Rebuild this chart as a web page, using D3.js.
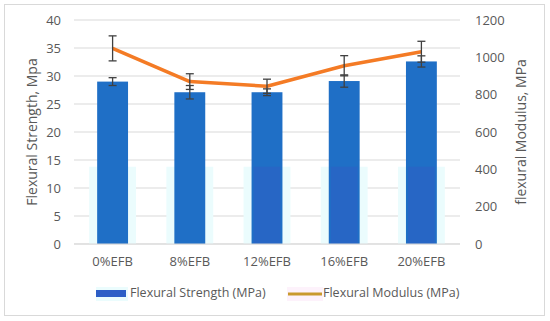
<!DOCTYPE html>
<html>
<head>
<meta charset="utf-8">
<script src="https://cdn.jsdelivr.net/npm/d3@7"></script>
<style>
  body { margin: 0; background: #fff; }
  text { font-family: "Open Sans", "Noto Sans", sans-serif; fill: #595959; }
</style>
</head>
<body>
<div id="chart"></div>
<script>
// data
const categories = ["0%EFB", "8%EFB", "12%EFB", "16%EFB", "20%EFB"];
const strength = [29.0, 27.1, 27.1, 29.1, 32.6];
const strengthErr = [0.7, 1.2, 0.6, 1.1, 1.0];
const modulus = [1048, 870, 845, 955, 1030];
const modulusErr = [67, 42, 38, 54, 56];
const leftTicks = [0, 5, 10, 15, 20, 25, 30, 35, 40];
const rightTicks = [0, 200, 400, 600, 800, 1000, 1200];

const width = 550, height = 321;
const margin = { top: 20, right: 90, bottom: 77, left: 74 };

const svg = d3.select("#chart")
    .append("svg")
    .attr("width", width)
    .attr("height", height);

// outer border
svg.append("rect")
    .attr("x", 4.5).attr("y", 4.5)
    .attr("width", 540).attr("height", 311)
    .attr("fill", "#fff")
    .attr("stroke", "#d9d9d9");

const x = d3.scaleBand()
    .domain(categories)
    .range([margin.left, width - margin.right])
    .paddingInner(0.6)
    .paddingOuter(0.3);

const yL = d3.scaleLinear().domain([0, 40]).range([height - margin.bottom, margin.top]);
const yR = d3.scaleLinear().domain([0, 1200]).range([height - margin.bottom, margin.top]);

// gridlines
svg.append("g")
    .selectAll("line")
    .data(leftTicks)
    .join("line")
    .attr("x1", margin.left).attr("x2", width - margin.right)
    .attr("y1", d => yL(d)).attr("y2", d => yL(d))
    .attr("stroke", "#d9d9d9");

// faint halo behind lower part of bars (scan artefact in source)
svg.append("g")
    .selectAll("rect")
    .data(categories)
    .join("rect")
    .attr("x", d => x(d) - 8)
    .attr("width", x.bandwidth() + 16)
    .attr("y", yL(13.8))
    .attr("height", yL(0) - yL(13.8))
    .attr("fill", "#ebfcfd");

// bars
svg.append("g")
    .selectAll("rect")
    .data(strength)
    .join("rect")
    .attr("x", (d, i) => x(categories[i]))
    .attr("width", x.bandwidth())
    .attr("y", d => yL(d))
    .attr("height", d => yL(0) - yL(d))
    .attr("fill", "#1f6fc6");

// slight purple tint on lower part of some bars
svg.append("g")
    .selectAll("rect")
    .data(strength.slice(2))
    .join("rect")
    .attr("x", (d, i) => x(categories[i + 2]) + 2)
    .attr("width", x.bandwidth() - 4)
    .attr("y", yL(13.8))
    .attr("height", yL(0) - yL(13.8))
    .attr("fill", "#3d52c2")
    .attr("opacity", 0.3);

// error bars
function errorBars(vals, errs, scale) {
    const g = svg.append("g").attr("stroke", "#404040").attr("stroke-width", 1.3);
    vals.forEach((v, i) => {
        const cx = x(categories[i]) + x.bandwidth() / 2;
        const y1 = scale(v - errs[i]), y2 = scale(v + errs[i]);
        g.append("line").attr("x1", cx).attr("x2", cx).attr("y1", y1).attr("y2", y2);
        g.append("line").attr("x1", cx - 4).attr("x2", cx + 4).attr("y1", y1).attr("y2", y1);
        g.append("line").attr("x1", cx - 4).attr("x2", cx + 4).attr("y1", y2).attr("y2", y2);
    });
}
errorBars(strength, strengthErr, yL);

// modulus line
const line = d3.line()
    .x((d, i) => x(categories[i]) + x.bandwidth() / 2)
    .y(d => yR(d));

svg.append("path")
    .datum(modulus)
    .attr("d", line)
    .attr("fill", "none")
    .attr("stroke", "#f47b25")
    .attr("stroke-width", 3.5)
    .attr("stroke-linejoin", "round");

errorBars(modulus, modulusErr, yR);

// axes
const axisL = svg.append("g")
    .attr("transform", `translate(${margin.left},0)`)
    .call(d3.axisLeft(yL).tickValues(leftTicks).tickSize(0).tickPadding(13));
const axisR = svg.append("g")
    .attr("transform", `translate(${width - margin.right},0)`)
    .call(d3.axisRight(yR).tickValues(rightTicks).tickFormat(d3.format("d")).tickSize(0).tickPadding(15));
const axisB = svg.append("g")
    .attr("transform", `translate(0,${height - margin.bottom})`)
    .call(d3.axisBottom(x).tickSize(0).tickPadding(13));

[axisL, axisR, axisB].forEach(a => {
    a.select(".domain").remove();
    a.selectAll("text").attr("font-size", 13).attr("fill", "#595959")
        .style("font-family", '"Open Sans", sans-serif');
});
svg.append("line")
    .attr("x1", margin.left).attr("x2", width - margin.right)
    .attr("y1", yL(0)).attr("y2", yL(0))
    .attr("stroke", "#d9d9d9");

// axis titles
svg.append("text")
    .attr("transform", `translate(33,${(yL(0) + yL(40)) / 2}) rotate(-90)`)
    .attr("text-anchor", "middle")
    .attr("dominant-baseline", "middle")
    .attr("font-size", 14)
    .text("Flexural Strength, Mpa");

svg.append("text")
    .attr("transform", `translate(522,${(yL(0) + yL(40)) / 2}) rotate(-90)`)
    .attr("text-anchor", "middle")
    .attr("dominant-baseline", "middle")
    .attr("font-size", 14)
    .text("flexural Modulus, MPa");

// legend
const legY = 294;
svg.append("rect").attr("x", 96).attr("y", legY - 7).attr("width", 32).attr("height", 14).attr("fill", "#ebfcfd");
svg.append("rect").attr("x", 96).attr("y", legY - 4).attr("width", 30).attr("height", 7).attr("fill", "#2d5ec6");
svg.append("text").attr("x", 130).attr("y", legY).attr("dominant-baseline", "middle")
    .attr("font-size", 12.5).text("Flexural Strength (MPa)");

svg.append("rect").attr("x", 287).attr("y", legY - 7).attr("width", 36).attr("height", 14).attr("fill", "#fdf2fb");
svg.append("line").attr("x1", 288).attr("x2", 322).attr("y1", legY).attr("y2", legY)
    .attr("stroke", "#c99a2e").attr("stroke-width", 3);
svg.append("text").attr("x", 323).attr("y", legY).attr("dominant-baseline", "middle")
    .attr("font-size", 12.5).text("Flexural Modulus (MPa)");
</script>
</body>
</html>
